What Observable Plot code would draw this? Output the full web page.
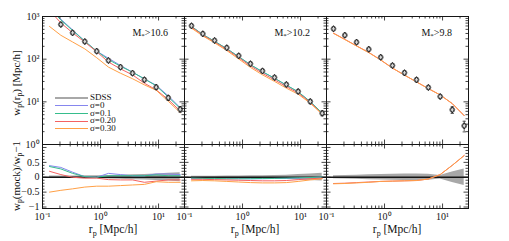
<!DOCTYPE html>
<html><head><meta charset="utf-8">
<script src="https://cdn.jsdelivr.net/npm/d3@7"></script>
<script src="https://cdn.jsdelivr.net/npm/@observablehq/plot@0.6"></script>
<style>
body{margin:0;background:#fff;}
#fig{position:relative;width:509px;height:241px;font-family:"Liberation Serif",serif;color:#111;overflow:hidden;background:#fff}
#fig svg{position:absolute}
.lab{position:absolute;font-size:11px;white-space:nowrap;line-height:1}
.lab sub{font-size:70%;vertical-align:-0.3em;line-height:0}
.leg{line-height:7.4px}
</style></head><body><div id="fig"></div>
<script>
// ---------- data ----------
const rp = [0.132, 0.207, 0.330, 0.536, 0.86, 1.37, 2.21, 3.56, 5.7, 9.1, 14.7, 23.6];
const massLabels = ["10.6", "10.2", "9.8"];
const seriesNames = ["\u03c3=0", "\u03c3=0.1", "\u03c3=0.20", "\u03c3=0.30"];
const seriesColors = ["#8686ee", "#36bd8c", "#f46262", "#ffa046"];

// SDSS wp(rp) and relative errors
const sdss106 = [1170, 649, 415, 259, 154, 93, 65, 47, 32.9, 22, 12.4, 6.7];
const sdss102 = [605, 393, 274, 185, 120, 78, 53, 37.2, 25.5, 17.5, 10.2, 5.4];
const sdss98  = [515, 365, 250, 171, 111, 71, 48, 32.9, 21.7, 13.3, 6.5, 2.74];
const err106 = [0.04, 0.04, 0.04, 0.05, 0.05, 0.06, 0.07, 0.08, 0.09, 0.11, 0.13, 0.15];
const err102 = [0.03, 0.03, 0.03, 0.04, 0.04, 0.05, 0.05, 0.06, 0.07, 0.09, 0.11, 0.13];
const err98  = [0.05, 0.06, 0.07, 0.08, 0.09, 0.10, 0.11, 0.11, 0.10, 0.06, 0.18, 0.28];

// mock wp(rp)
const wp106_s0   = [1626, 863, 486, 264, 154, 105, 70.9, 49.4, 34.5, 24.4, 13.8, 7.3];
const wp106_s01  = [1591, 831, 469, 264, 154, 97.7, 68.3, 49.4, 34.5, 23.8, 13.0, 7.0];
const wp106_s020 = [1404, 707, 415, 251, 149, 85.6, 59.2, 42.8, 27.3, 19.1, 11.3, 6.1];
const wp106_s030 = [585, 363, 253, 174, 108, 65.1, 46.8, 34.8, 25.0, 18.7, 10.3, 5.6];
const wp102_s0   = [581, 377, 260, 176, 114, 74.1, 50.4, 35.7, 24.5, 17.0, 10.1, 5.4];
const wp102_s01  = [587, 377, 263, 176, 114, 74.1, 50.9, 35.7, 24.7, 17.2, 10.1, 5.45];
const wp102_s020 = [563, 365, 252, 168, 108, 69.4, 46.6, 32.7, 22.7, 16.1, 9.7, 5.2];
const wp102_s030 = [532, 350, 241, 159, 101, 64, 42.9, 30.1, 20.9, 15.1, 9.3, 5.1];
const wp98_s020  = [407, 292, 205, 144, 95.5, 61.8, 42.2, 29.3, 20.4, 14.5, 9.1, 4.74];
const wp98_s030  = [402, 288, 203, 142, 95.5, 61.8, 42.2, 29.3, 20.4, 14.5, 9.1, 4.74];

// wp(mock)/wp - 1
const r106_s0   = [0.39, 0.33, 0.17, 0.02, 0.0, 0.13, 0.09, 0.05, 0.05, 0.11, 0.11, 0.09];
const r106_s01  = [0.36, 0.28, 0.13, 0.02, 0.0, 0.05, 0.05, 0.05, 0.05, 0.08, 0.05, 0.05];
const r106_s020 = [0.20, 0.09, 0.0, -0.03, -0.03, -0.08, -0.09, -0.09, -0.17, -0.13, -0.09, -0.09];
const r106_s030 = [-0.50, -0.44, -0.39, -0.33, -0.30, -0.30, -0.28, -0.26, -0.24, -0.15, -0.17, -0.17];
const r102_s0   = [-0.04, -0.04, -0.05, -0.05, -0.05, -0.05, -0.05, -0.04, -0.04, -0.03, -0.01, 0.0];
const r102_s01  = [-0.03, -0.04, -0.04, -0.05, -0.05, -0.05, -0.04, -0.04, -0.03, -0.02, -0.01, 0.01];
const r102_s020 = [-0.07, -0.07, -0.08, -0.09, -0.10, -0.11, -0.12, -0.12, -0.11, -0.08, -0.05, -0.03];
const r102_s030 = [-0.12, -0.11, -0.12, -0.14, -0.16, -0.18, -0.19, -0.19, -0.18, -0.14, -0.09, -0.05];
const r98_s020  = [-0.21, -0.20, -0.18, -0.16, -0.14, -0.13, -0.12, -0.11, -0.06, 0.09, 0.40, 0.73];
const r98_s030  = [-0.22, -0.21, -0.19, -0.17, -0.14, -0.13, -0.12, -0.11, -0.06, 0.09, 0.40, 0.73];

// tick labels
const xTickVals = [0.1, 1, 10];
const xTickLabels = ["10\u207b\u00b9", "10\u2070", "10\u00b9"];
const yTopTickVals = [1, 10, 100, 1000];
const yTopTickLabels = ["10\u2070", "10\u00b9", "10\u00b2", "10\u00b3"];
const yBotTickVals = [-1, -0.5, 0, 0.5];
const yBotTickLabels = ["\u22121", "\u22120.5", "0", "0.5"];

// ---------- layout ----------
const panels = [
  {sdss: sdss106, err: err106, top: [wp106_s0, wp106_s01, wp106_s020, wp106_s030], ratio: [r106_s0, r106_s01, r106_s020, r106_s030]},
  {sdss: sdss102, err: err102, top: [wp102_s0, wp102_s01, wp102_s020, wp102_s030], ratio: [r102_s0, r102_s01, r102_s020, r102_s030]},
  {sdss: sdss98,  err: err98,  top: [null, null, wp98_s020, wp98_s030], ratio: [null, null, r98_s020, r98_s030]}
];
const W = 142, HT = 128, HB = 64;
const ML = 42, MR = 6, MT = 16, MB = 24;
const frameLefts = [42, 184, 326];
const topFrameY = 16, botFrameY = 144;

const xMinor = [], yMinorLog = [], yMinorLin = [];
for (const d of [0.1, 1, 10]) for (let k = 2; k <= 9; k++) if (d * k <= 28) xMinor.push(d * k);
for (const d of [1, 10, 100]) for (let k = 2; k <= 9; k++) yMinorLog.push(d * k);
for (let k = -10; k <= 11; k++) if (k % 5 !== 0) yMinorLin.push(k / 10);

const ink = "#151515";
function tickMarks(yMaj, yMin, H) {
  const L1 = 4.5, L2 = 2.5, st = {stroke: ink, strokeWidth: 0.8};
  return [
    Plot.tickY(yMaj, {y: d => d, insetRight: W - L1, ...st}),
    Plot.tickY(yMaj, {y: d => d, insetLeft: W - L1, ...st}),
    Plot.tickY(yMin, {y: d => d, insetRight: W - L2, ...st}),
    Plot.tickY(yMin, {y: d => d, insetLeft: W - L2, ...st}),
    Plot.tickX(xTickVals, {x: d => d, insetTop: H - L1, ...st}),
    Plot.tickX(xTickVals, {x: d => d, insetBottom: H - L1, ...st}),
    Plot.tickX(xMinor, {x: d => d, insetTop: H - L2, ...st}),
    Plot.tickX(xMinor, {x: d => d, insetBottom: H - L2, ...st})
  ];
}
const capSymbol = {draw(ctx, size) { const r = Math.sqrt(size / Math.PI); ctx.moveTo(-r, 0); ctx.lineTo(r, 0); }};

const fig = document.getElementById("fig");
function place(svg, left, top) {
  svg.style.position = "absolute";
  svg.style.left = left + "px";
  svg.style.top = top + "px";
  svg.style.background = "transparent";
  fig.appendChild(svg);
}
const baseStyle = {background: "transparent", fontFamily: "Liberation Serif, serif", fontSize: "9px", color: ink, overflow: "visible"};

panels.forEach((p, i) => {
  // ---- top panel ----
  const pts = rp.map((r, j) => ({r, w: p.sdss[j], lo: p.sdss[j] * (1 - p.err[j]), hi: p.sdss[j] * (1 + p.err[j])}));
  const topMarks = [];
  p.top.forEach((arr, s) => {
    if (!arr) return;
    topMarks.push(Plot.line(rp.map((r, j) => ({r, v: arr[j]})), {x: "r", y: "v", stroke: seriesColors[s], strokeWidth: 1, clip: true}));
  });
  topMarks.push(
    Plot.ruleX(pts, {x: "r", y1: "lo", y2: "hi", stroke: "#333", strokeWidth: 0.8, clip: true}),
    Plot.dot(pts, {x: "r", y: "lo", symbol: capSymbol, r: 1.6, stroke: "#333", fill: "none", strokeWidth: 0.8, clip: true}),
    Plot.dot(pts, {x: "r", y: "hi", symbol: capSymbol, r: 1.6, stroke: "#333", fill: "none", strokeWidth: 0.8, clip: true}),
    Plot.dot(pts, {x: "r", y: "w", r: 2.5, fill: "#d8d8d8", stroke: "#555", strokeWidth: 0.8, clip: true}),
    Plot.dot(pts, {x: "r", y: "w", symbol: "diamond", r: 1.9, fill: "none", stroke: "#111", strokeWidth: 0.8, clip: true}),
    ...tickMarks(yTopTickVals, yMinorLog, HT),
    Plot.frame({stroke: ink, strokeWidth: 1})
  );
  if (i === 0) {
    topMarks.push(Plot.text(yTopTickVals, {y: d => d, text: (d, j) => yTopTickLabels[j], frameAnchor: "left", textAnchor: "end", dx: -3, fontSize: 10}));
  }
  const topSvg = Plot.plot({
    width: ML + W + MR, height: MT + HT + MB,
    marginLeft: ML, marginRight: MR, marginTop: MT, marginBottom: MB,
    x: {type: "log", domain: [0.1, 28], axis: null},
    y: {type: "log", domain: [1, 1000], axis: null},
    style: baseStyle,
    marks: topMarks
  });
  place(topSvg, frameLefts[i] - ML, topFrameY - MT);

  // ---- bottom panel ----
  const band = rp.map((r, j) => ({r, lo: -p.err[j], hi: p.err[j]}));
  const botMarks = [
    Plot.areaY(band, {x: "r", y1: "lo", y2: "hi", fill: "#a8a8a8", clip: true}),
    Plot.ruleY([0], {stroke: ink, strokeWidth: 1.3})
  ];
  p.ratio.forEach((arr, s) => {
    if (!arr) return;
    botMarks.push(Plot.line(rp.map((r, j) => ({r, v: arr[j]})), {x: "r", y: "v", stroke: seriesColors[s], strokeWidth: 1, clip: true}));
  });
  botMarks.push(
    ...tickMarks([-1, -0.5, 0, 0.5, 1], yMinorLin, HB),
    Plot.frame({stroke: ink, strokeWidth: 1}),
    Plot.text(xTickVals, {x: d => d, text: (d, j) => xTickLabels[j], frameAnchor: "bottom", dy: 11, fontSize: 10})
  );
  if (i === 0) {
    botMarks.push(Plot.text(yBotTickVals, {y: d => d, text: (d, j) => yBotTickLabels[j], frameAnchor: "left", textAnchor: "end", dx: -3, fontSize: 10}));
  }
  const botSvg = Plot.plot({
    width: ML + W + MR, height: MT + HB + MB,
    marginLeft: ML, marginRight: MR, marginTop: MT, marginBottom: MB,
    x: {type: "log", domain: [0.1, 28], axis: null},
    y: {domain: [-1.05, 1.1], axis: null},
    style: baseStyle,
    marks: botMarks
  });
  place(botSvg, frameLefts[i] - ML, botFrameY - MT);
});

// ---------- text overlays ----------
function addLabel(html, x, y, size, transform, cls) {
  const d = document.createElement("div");
  d.className = "lab" + (cls ? " " + cls : "");
  d.innerHTML = html;
  d.style.left = x + "px";
  d.style.top = y + "px";
  d.style.fontSize = size + "px";
  d.style.transform = transform || "translate(-50%,-50%)";
  fig.appendChild(d);
}
massLabels.forEach((m, i) => {
  addLabel("M<sub>*</sub>&gt;" + m, frameLefts[i] + W - 16, 33, 10, "translate(-100%,-50%)");
  addLabel("r<sub>p</sub> [Mpc/h]", frameLefts[i] + W / 2, 230, 11.5);
});
addLabel("w<sub>p</sub>(r<sub>p</sub>) [Mpc/h]", 16, 83, 11, "translate(-50%,-50%) rotate(-90deg)");
addLabel("w<sub>p</sub>(mock)/w<sub>p</sub>\u22121", 16, 176, 11, "translate(-50%,-50%) rotate(-90deg)");

// legend
const legendItems = [{name: "SDSS", color: "#a8a8a8", w: 2}].concat(seriesNames.map((n, s) => ({name: n, color: seriesColors[s], w: 1})));
legendItems.forEach((it, k) => {
  const y = 98.3 + k * 7.6;
  const ln = document.createElement("div");
  ln.style.cssText = `position:absolute;left:55px;width:33px;top:${y - it.w / 2}px;height:${it.w}px;background:${it.color}`;
  fig.appendChild(ln);
  addLabel(it.name, 90, y, 9, "translate(0,-50%)", "leg");
});
</script>
</body></html>
